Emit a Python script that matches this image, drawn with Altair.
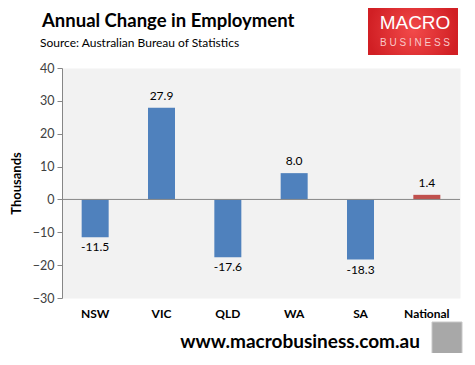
import altair as alt
import pandas as pd

regions = ["NSW", "VIC", "QLD", "WA", "SA", "National"]
changes = [-11.5, 27.9, -17.6, 8.0, -18.3, 1.4]
bar_colors = ["#4f81bd", "#4f81bd", "#4f81bd", "#4f81bd", "#4f81bd", "#c0504d"]
y_ticks = [-30, -20, -10, 0, 10, 20, 30, 40]

df = pd.DataFrame({"region": regions, "value": changes, "color": bar_colors})
df["label"] = df["value"].map(lambda v: f"{v:.1f}")

FONT = "Lato"

x_axis = alt.Axis(title=None, labelFontWeight="bold", labelFontSize=12,
                  labelColor="#000000", labelFont=FONT, domain=False,
                  ticks=False, labelPadding=10, labelAngle=0, orient="bottom")
x_scale = alt.Scale(paddingInner=0, paddingOuter=0)
y_axis = alt.Axis(values=y_ticks, title="Thousands", titleFont=FONT,
                  titleFontSize=13, titleFontWeight="bold", titleColor="#000000",
                  titlePadding=9, labelFont=FONT, labelFontSize=12.5,
                  labelColor="#404040", domainColor="#868686", tickColor="#868686",
                  tickSize=5, grid=False, labelPadding=3, labelOverlap=False,
                  labelFlush=False)
y_scale = alt.Scale(domain=[-30, 40], nice=False)

def X():
    return alt.X("region:N", sort=regions, scale=x_scale, axis=x_axis)

def Y(field="value:Q"):
    return alt.Y(field, scale=y_scale, axis=y_axis)

base = alt.Chart(df)
bars = base.mark_bar(size=27).encode(x=X(), y=Y(),
                                     color=alt.Color("color:N", scale=None))
zero = alt.Chart(pd.DataFrame({"value": [0]})).mark_rule(color="#868686", strokeWidth=1).encode(
    y=Y(), x=alt.value(0), x2=alt.value(398))
pos_labels = base.transform_filter("datum.value >= 0").mark_text(
    baseline="bottom", dy=-5, font=FONT, fontSize=12, color="#000000").encode(
    x=X(), y=Y(), text="label:N")
neg_labels = base.transform_filter("datum.value < 0").mark_text(
    baseline="top", dy=5, font=FONT, fontSize=12, color="#000000").encode(
    x=X(), y=Y(), text="label:N")

one = pd.DataFrame({"t": [""]})
title = alt.Chart(pd.DataFrame({"t": ["Annual Change in Employment"]})).mark_text(
    align="left", baseline="alphabetic", font=FONT, fontSize=18.5, fontWeight="bold",
    color="#000000").encode(x=alt.value(-20), y=alt.value(-41), text="t:N")
subtitle = alt.Chart(pd.DataFrame({"t": ["Source: Australian Bureau of Statistics"]})).mark_text(
    align="left", baseline="alphabetic", font=FONT, fontSize=12, color="#000000").encode(
    x=alt.value(-22), y=alt.value(-21), text="t:N")

logo_box = alt.Chart(one).mark_rect(
    color=alt.Gradient(gradient="radial", stops=[
        alt.GradientStop(color="#f24a4a", offset=0),
        alt.GradientStop(color="#d11f24", offset=1)])).encode(
    x=alt.value(306), x2=alt.value(396), y=alt.value(-62), y2=alt.value(-13))
logo_top = alt.Chart(pd.DataFrame({"t": ["MACRO"]})).mark_text(
    font="Liberation Sans", fontSize=19, color="#ffffff", align="center",
    baseline="middle").encode(x=alt.value(353), y=alt.value(-45), text="t:N")
logo_bot = alt.Chart(pd.DataFrame({"t": ["B U S I N E S S"]})).mark_text(
    font="Liberation Sans", fontSize=10, color="#f8c8c8", align="center",
    baseline="middle").encode(x=alt.value(353), y=alt.value(-25), text="t:N")

footer = alt.Chart(pd.DataFrame({"t": ["www.macrobusiness.com.au"]})).mark_text(
    font=FONT, fontSize=19, fontWeight="bold", color="#000000", align="center",
    baseline="middle").encode(x=alt.value(238), y=alt.value(274), text="t:N")
icon = alt.Chart(one).mark_rect(color="#a8a8a8", stroke="#c8c8c8").encode(
    x=alt.value(370), x2=alt.value(400), y=alt.value(254), y2=alt.value(288))

chart = alt.layer(bars, zero, pos_labels, neg_labels, title, subtitle, logo_box,
                  logo_top, logo_bot, footer, icon).properties(
    width=398, height=230,
    autosize=alt.AutoSizeParams(type="none"),
    padding={"left": 54, "top": 60, "right": 5, "bottom": 55},
    background="#ffffff",
).configure_view(fill="#f2f2f2", stroke="transparent")

chart.save("out.html", embed_options={"renderer": "svg", "actions": False})
